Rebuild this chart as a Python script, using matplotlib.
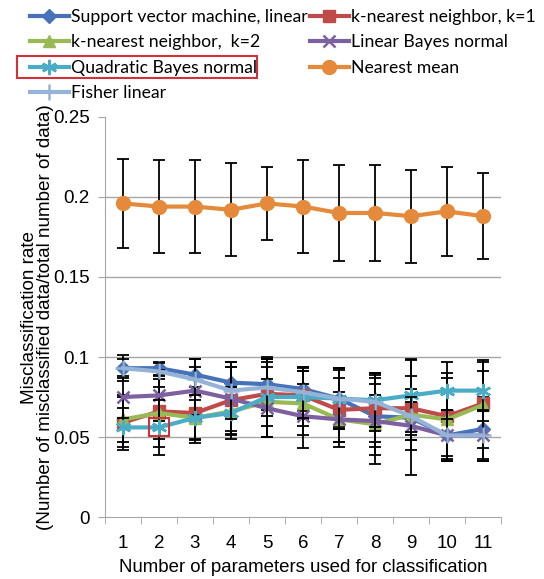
import matplotlib
matplotlib.use("Agg")
import matplotlib.pyplot as plt
from matplotlib.patches import Rectangle
import numpy as np

# number of parameters used for classification
n_params = [1, 2, 3, 4, 5, 6, 7, 8, 9, 10, 11]

# misclassification rate (mean) and error bar half-widths
svm      = [0.093, 0.093, 0.089, 0.084, 0.083, 0.080, 0.074, 0.063, 0.062, 0.051, 0.055]
svm_err  = [0.006, 0.004, 0.010, 0.013, 0.016, 0.014, 0.018, 0.024, 0.036, 0.013, 0.020]
knn1     = [0.059, 0.066, 0.065, 0.073, 0.077, 0.076, 0.067, 0.068, 0.068, 0.063, 0.071]
knn1_err = [0.017, 0.022, 0.016, 0.021, 0.020, 0.015, 0.020, 0.021, 0.020, 0.027, 0.020]
knn2     = [0.061, 0.065, 0.062, 0.066, 0.072, 0.071, 0.061, 0.058, 0.064, 0.061, 0.070]
knn2_err = [0.014, 0.016, 0.016, 0.015, 0.022, 0.020, 0.017, 0.025, 0.016, 0.026, 0.027]
lbn      = [0.075, 0.076, 0.079, 0.074, 0.068, 0.063, 0.061, 0.060, 0.057, 0.051, 0.051]
lbn_err  = [0.013, 0.016, 0.015, 0.020, 0.018, 0.020, 0.014, 0.016, 0.015, 0.016, 0.016]
qbn      = [0.056, 0.056, 0.062, 0.065, 0.075, 0.075, 0.074, 0.073, 0.076, 0.079, 0.079]
qbn_err  = [0.012, 0.017, 0.014, 0.016, 0.025, 0.018, 0.019, 0.017, 0.023, 0.018, 0.019]
nm       = [0.196, 0.194, 0.194, 0.192, 0.196, 0.194, 0.190, 0.190, 0.188, 0.191, 0.188]
nm_err   = [0.028, 0.029, 0.029, 0.029, 0.023, 0.029, 0.030, 0.030, 0.029, 0.028, 0.027]
fisher   = [0.093, 0.091, 0.086, 0.079, 0.081, 0.078, 0.074, 0.072, 0.063, 0.051, 0.051]
fisher_err = [0.008, 0.005, 0.013, 0.018, 0.018, 0.016, 0.019, 0.018, 0.012, 0.016, 0.015]

series = [
    ("Support vector machine, linear", svm, svm_err, "#4572B8", "D", 7),
    ("k-nearest neighbor, k=1", knn1, knn1_err, "#BE4B48", "s", 8),
    ("k-nearest neighbor,  k=2", knn2, knn2_err, "#98B954", "^", 9),
    ("Linear Bayes normal", lbn, lbn_err, "#7D60A0", "x", 9),
    ("Quadratic Bayes normal", qbn, qbn_err, "#4BACC6", (6, 2, 0), 11),
    ("Nearest mean", nm, nm_err, "#E5893A", "o", 10),
    ("Fisher linear", fisher, fisher_err, "#95B3D7", "+", 11),
]

plt.rcParams['font.family'] = ['Liberation Sans', 'DejaVu Sans']

fig = plt.figure(figsize=(5.44, 5.79), dpi=100)
ax = fig.add_axes([0.193, 0.107, 0.728, 0.691])

x = np.array(n_params)
handles = {}
for i, (name, vals, err, col, mk, ms) in enumerate(series):
    ax.errorbar(x, vals, yerr=err, fmt='none', ecolor='black', elinewidth=1.3,
                capsize=4, capthick=1.3, zorder=3 + 2 * i)
    ln, = ax.plot(x, vals, color=col, lw=3, marker=mk, markersize=ms,
                  markeredgewidth=1.8 if mk in ("x", "+", (6, 2, 0)) else 1,
                  markeredgecolor=col, markerfacecolor=col, zorder=4 + 2 * i,
                  label=name)
    handles[name] = ln

# horizontal gridlines
for g in [0.05, 0.1, 0.15, 0.2]:
    ax.axhline(g, color='#A6A6A6', lw=1, zorder=1)

ax.set_xlim(0.5, 11.5)
ax.set_ylim(0, 0.25)
ax.set_yticks([0, 0.05, 0.1, 0.15, 0.2, 0.25])
ax.set_yticklabels(["0", "0.05", "0.1", "0.15", "0.2", "0.25"])
ax.set_xticks(n_params)
ax.set_xticks(np.arange(0.5, 12, 1), minor=True)
ax.tick_params(axis='x', which='major', length=0, pad=13, labelsize=13.5)
ax.tick_params(axis='x', which='minor', length=5, color='#A6A6A6', direction='out')
ax.tick_params(axis='y', length=5, color='#A6A6A6', direction='out', labelsize=13.5, pad=6)
for s in ['top', 'right']:
    ax.spines[s].set_visible(False)
for s in ['left', 'bottom']:
    ax.spines[s].set_color('#A6A6A6')

ax.set_xlabel("Number of parameters used for classification", fontsize=13.4, labelpad=5)
ax.set_ylabel("Misclassification rate\n(Number of misclassified data/total number of data)",
              fontsize=13.6, labelpad=-1, linespacing=0.92)

order = ["Support vector machine, linear", "k-nearest neighbor,  k=2",
         "Quadratic Bayes normal", "Fisher linear",
         "k-nearest neighbor, k=1", "Linear Bayes normal", "Nearest mean"]
fig.legend([handles[n] for n in order], order, ncol=2, loc='upper left',
           bbox_to_anchor=(30 / 544, 1 - 9 / 579), frameon=False,
           prop={'family': 'Lato', 'size': 12.7},
           handlelength=2.2, handletextpad=0.1, columnspacing=0.15,
           labelspacing=0.53, borderpad=0, borderaxespad=0)

# red highlight boxes
fig.patches.append(Rectangle((17 / 544, 1 - 78 / 579), 240 / 544, 22 / 579,
                             transform=fig.transFigure, fill=False,
                             edgecolor='#D0313A', lw=1.5))
ax.add_patch(Rectangle((1.72, 0.0505), 0.56, 0.0115, fill=False,
                       edgecolor='#D0313A', lw=1.5, zorder=30))

fig.savefig("out.png", dpi=100)
